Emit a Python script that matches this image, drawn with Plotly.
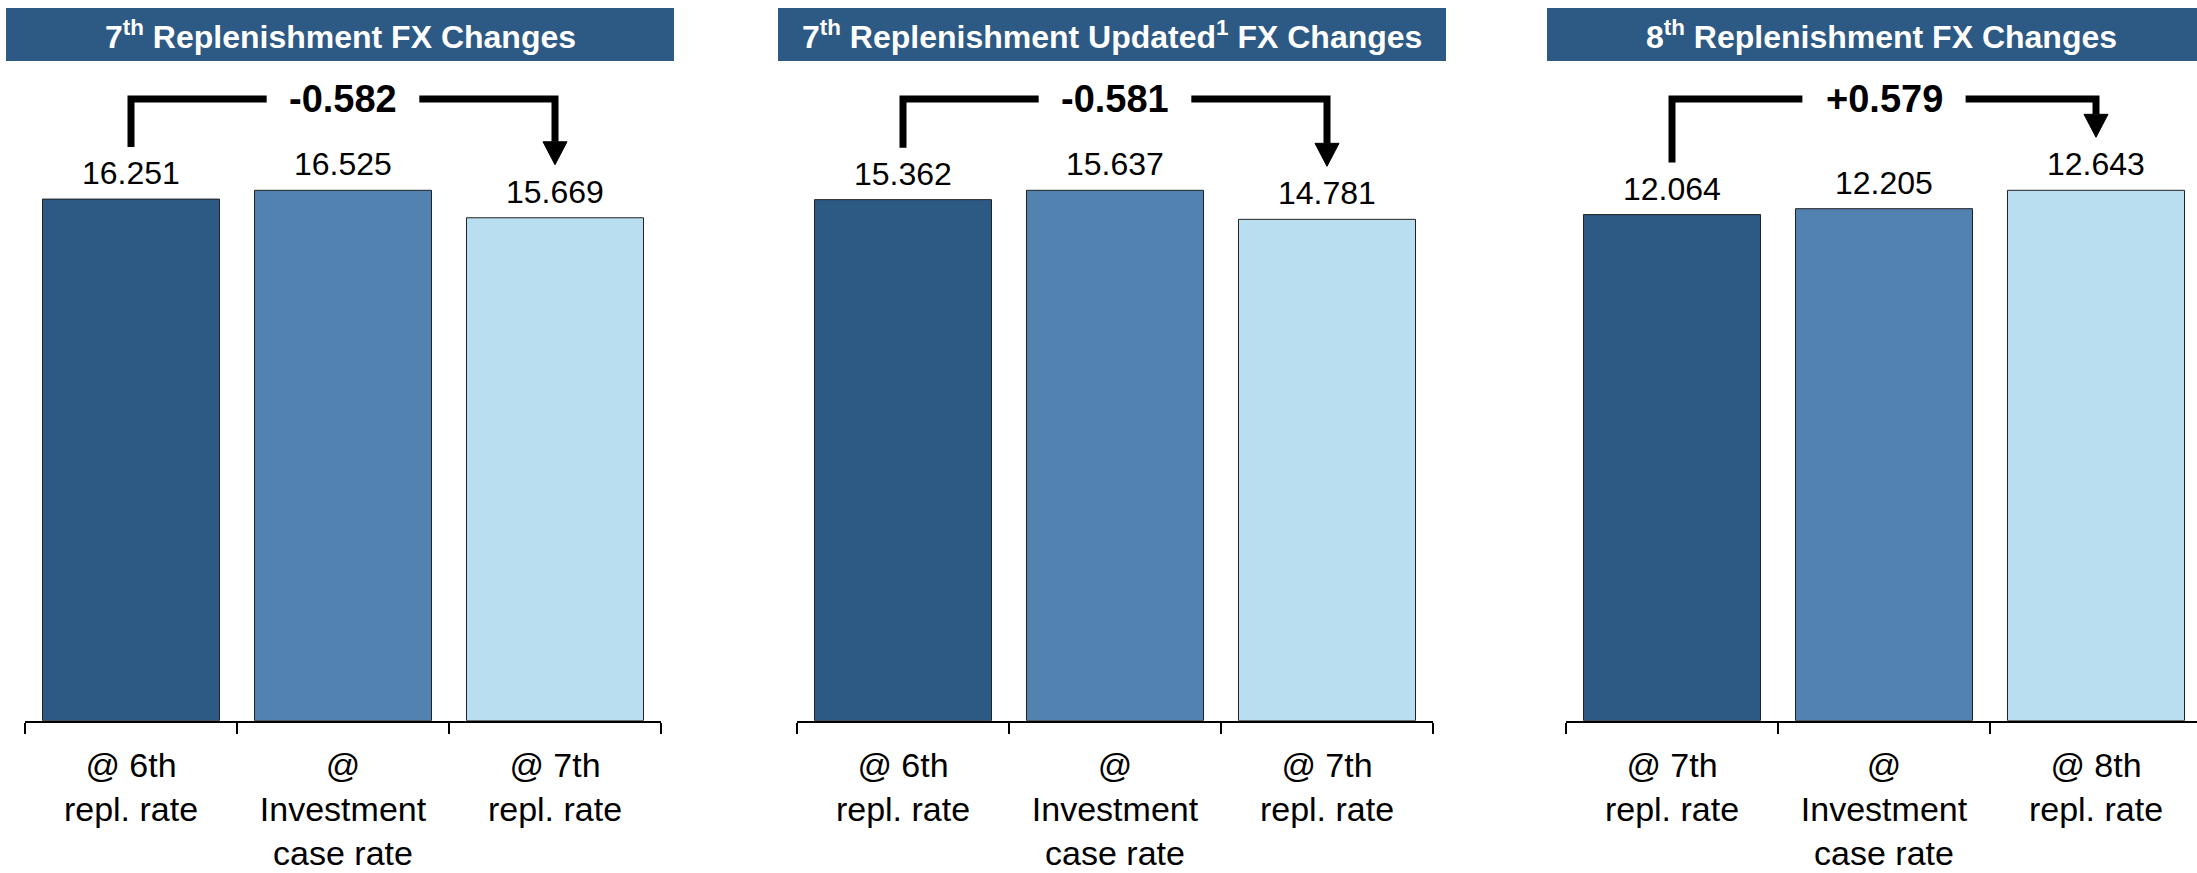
import plotly.graph_objects as go

# --- data -------------------------------------------------------------
panel_titles = [
    "7<sup>th</sup> Replenishment FX Changes",
    "7<sup>th</sup> Replenishment Updated<sup>1</sup> FX Changes",
    "8<sup>th</sup> Replenishment FX Changes",
]
categories = [
    ["@ 6th<br>repl. rate", "@<br>Investment<br>case rate", "@ 7th<br>repl. rate"],
    ["@ 6th<br>repl. rate", "@<br>Investment<br>case rate", "@ 7th<br>repl. rate"],
    ["@ 7th<br>repl. rate", "@<br>Investment<br>case rate", "@ 8th<br>repl. rate"],
]
values = [
    [16.251, 16.525, 15.669],
    [15.362, 15.637, 14.781],
    [12.064, 12.205, 12.643],
]
deltas = [-0.582, -0.581, 0.579]

bar_colors = ["#2D5985", "#5182B0", "#B8DEF0"]
header_color = "#2D5985"
FONT = "Liberation Sans, Arial, sans-serif"

# --- layout geometry (pixels) ----------------------------------------
W, H = 2197, 873
plot_top, plot_bottom = 80, 720.7
plot_h = plot_bottom - plot_top
tallest_px = 530.4          # height of the tallest bar in each panel
cat_px = 212                # width of one category slot
axis_starts = [25, 797, 1566]


def px_x(p):
    return p / W


fig = go.Figure()

for i in range(3):
    n = "" if i == 0 else str(i + 1)
    xs, ys = "x" + n, "y" + n
    vmax = max(values[i])
    ymax = vmax * plot_h / tallest_px
    ax = ymax / plot_h                       # data units per pixel
    x0 = axis_starts[i]
    x1 = min(x0 + 3 * cat_px, W)
    xr = [-0.5, -0.5 + (x1 - x0) / cat_px]

    fig.add_trace(
        go.Bar(
            x=categories[i],
            y=values[i],
            xaxis=xs,
            yaxis=ys,
            marker=dict(color=bar_colors, line=dict(color="#222222", width=1)),
            width=0.835,
            hoverinfo="x+y",
            showlegend=False,
        )
    )

    # value labels above the bars
    for c, v in zip(categories[i], values[i]):
        fig.add_annotation(
            xref=xs, yref=ys, x=c, y=v,
            text=f"{v:.3f}",
            showarrow=False, xanchor="center", yanchor="middle", yshift=26,
            font=dict(size=32, color="black", family=FONT),
        )

    fig.update_layout(**{
        "xaxis" + n: dict(
            domain=[px_x(x0), px_x(x1)],
            range=xr,
            type="category",
            anchor=ys,
            showline=True,
            linecolor="black",
            linewidth=2,
            ticks="outside",
            tickson="boundaries",
            ticklen=11,
            tickwidth=1.5,
            tickcolor="black",
            ticklabelstandoff=13,
            showgrid=False,
            tickfont=dict(size=34, color="black", family=FONT),
            automargin=False,
            fixedrange=True,
        ),
        "yaxis" + n: dict(
            domain=[(H - plot_bottom) / H, (H - plot_top) / H],
            range=[0, ymax],
            anchor=xs,
            visible=False,
            fixedrange=True,
        ),
    })

    # header bar
    fig.add_shape(
        type="rect", xref="paper", yref="paper",
        x0=px_x(x0 - 19), x1=px_x(x0 + 649), y0=(H - 61) / H, y1=(H - 8) / H,
        fillcolor=header_color, line_width=0, layer="below",
    )
    fig.add_annotation(
        xref="paper", yref="paper",
        x=px_x(x0 + 315), y=(H - 35) / H,
        text="<b>" + panel_titles[i] + "</b>",
        showarrow=False, xanchor="center", yanchor="middle",
        font=dict(size=32, color="white", family=FONT),
    )

    # bracket with arrow from first to last bar
    y_top = (plot_bottom - 99) * ax
    y_left = values[i][0] + 52 * ax
    y_tip = values[i][2] + 53 * ax
    y_base = y_tip + 23 * ax
    gap = 0.36 if deltas[i] < 0 else 0.385
    hw = 12 / cat_px
    line = dict(color="black", width=7)
    fig.add_shape(
        type="path", xref=xs, yref=ys,
        path=f"M 0,{y_left} L 0,{y_top} L {1 - gap},{y_top}",
        line=line,
    )
    fig.add_shape(
        type="path", xref=xs, yref=ys,
        path=f"M {1 + gap},{y_top} L 2,{y_top} L 2,{y_base}",
        line=line,
    )
    fig.add_shape(
        type="path", xref=xs, yref=ys,
        path=f"M {2 - hw},{y_base} L {2 + hw},{y_base} L 2,{y_tip} Z",
        fillcolor="black", line=dict(color="black", width=1),
    )
    fig.add_annotation(
        xref=xs, yref=ys, x=1, y=y_top,
        text=f"<b>{deltas[i]:+.3f}</b>",
        showarrow=False, xanchor="center", yanchor="middle",
        font=dict(size=38, color="black", family=FONT),
    )

fig.update_layout(
    width=W,
    height=H,
    margin=dict(l=0, r=0, t=0, b=0),
    plot_bgcolor="white",
    paper_bgcolor="white",
    font=dict(family=FONT, color="black"),
)

fig.write_html(
    "out.html",
    config={"displayModeBar": False},
    post_script="document.body.style.margin='0';",
)
